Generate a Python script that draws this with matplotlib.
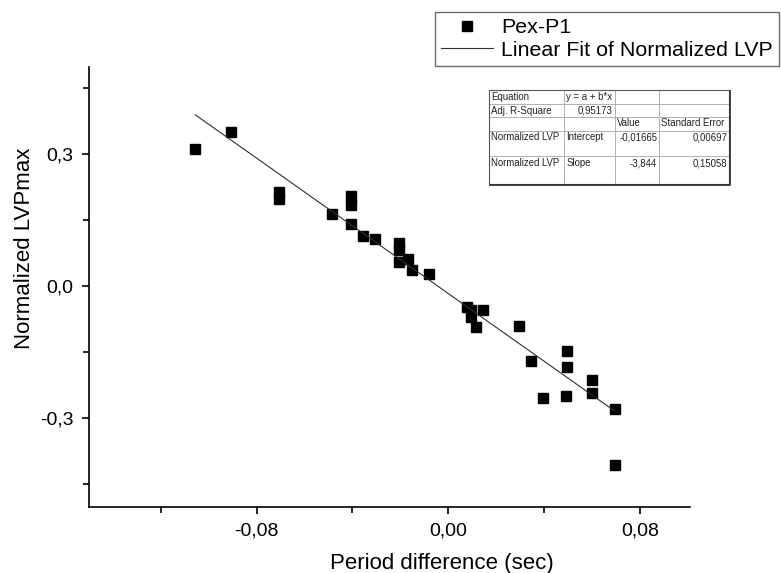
import matplotlib
matplotlib.use("Agg")
import matplotlib.pyplot as plt
import numpy as np

plt.rcParams['font.family'] = ['Liberation Sans', 'DejaVu Sans']

# ---- data ----
period_diff = [-0.1056, -0.0908, -0.0705, -0.0705, -0.0485, -0.0404, -0.0404, -0.0405,
               -0.0355, -0.0306, -0.0205, -0.0205, -0.0205, -0.0167, -0.0153, -0.0081,
               0.0079, 0.0096, 0.0095, 0.0118, 0.0146, 0.0295, 0.0345, 0.0397,
               0.0497, 0.0497, 0.0494, 0.0599, 0.0599, 0.0696, 0.0696]
norm_lvp = [0.312, 0.350, 0.214, 0.198, 0.163, 0.205, 0.184, 0.142,
            0.114, 0.108, 0.098, 0.082, 0.055, 0.061, 0.036, 0.027,
            -0.047, -0.055, -0.071, -0.092, -0.055, -0.091, -0.170, -0.255,
            -0.148, -0.184, -0.249, -0.213, -0.244, -0.279, -0.407]

fit_intercept = -0.01665
fit_slope = -3.844

x_major = [-0.08, 0.0, 0.08]
x_major_labels = ["-0,08", "0,00", "0,08"]
x_minor = [-0.12, -0.04, 0.04]
y_major = [-0.3, 0.0, 0.3]
y_major_labels = ["-0,3", "0,0", "0,3"]
y_minor = [-0.45, -0.15, 0.15, 0.45]

table_cells = [
    ["Equation", "y = a + b*x", "", ""],
    ["Adj. R-Square", "0,95173", "", ""],
    ["", "", "Value", "Standard Error"],
    ["Normalized LVP", "Intercept", "-0,01665", "0,00697"],
    ["Normalized LVP", "Slope", "-3,844", "0,15058"],
]
table_right_align = [
    [False, False, False, False],
    [False, True, False, False],
    [False, False, False, False],
    [False, False, True, True],
    [False, False, True, True],
]

W, H = 781, 573
fig = plt.figure(figsize=(W / 100, H / 100), dpi=100)

def fx(px):
    return px / W

def fy(py):
    return 1 - py / H

# main axes: left 89, right 690, top 67, bottom 507 (pixels)
ax = fig.add_axes([fx(89), fy(507), fx(690) - fx(89), fy(67) - fy(507)])
ax.set_xlim(-0.15, 0.101)
ax.set_ylim(-0.502, 0.498)

pts, = ax.plot(period_diff, norm_lvp, linestyle='none', marker='s', markersize=7.2,
               color='black', label='Pex-P1')
xf = np.array([min(period_diff), max(period_diff)])
fit, = ax.plot(xf, fit_intercept + fit_slope * xf, color='#303030', lw=0.8,
               label='Linear Fit of Normalized LVP')

for s in ['top', 'right']:
    ax.spines[s].set_visible(False)
for s in ['left', 'bottom']:
    ax.spines[s].set_linewidth(1.2)

ax.set_xticks(x_major)
ax.set_xticklabels(x_major_labels)
ax.set_xticks(x_minor, minor=True)
ax.set_yticks(y_major)
ax.set_yticklabels(y_major_labels)
ax.set_yticks(y_minor, minor=True)
ax.tick_params(which='major', direction='out', length=5, width=1.2, labelsize=14, pad=6)
ax.tick_params(which='minor', direction='out', length=4, width=1.2)

ax.set_xlabel("Period difference (sec)", fontsize=16)
ax.set_ylabel("Normalized LVPmax", fontsize=16)
ax.xaxis.set_label_coords(0.587, -0.104)
ax.yaxis.set_label_coords(-0.090, 0.589)

# legend (its frame runs past the right edge of the figure, as in the reference)
leg = fig.legend(handles=[pts, fit], loc='upper left',
                 bbox_to_anchor=(fx(435), fy(12)), bbox_transform=fig.transFigure,
                 fontsize=15.4, frameon=True, fancybox=False, edgecolor='#444444',
                 handlelength=2.4, handletextpad=0.4, borderpad=0.3,
                 labelspacing=0.15, borderaxespad=0, numpoints=1)
leg.get_frame().set_linewidth(1.0)

# fit-result table
col_x = [489.0, 564.3, 615.0, 659.3, 729.3]
row_y = [90.0, 103.5, 116.5, 130.5, 156.0, 184.0]
tax = fig.add_axes([fx(col_x[0]), fy(row_y[-1]), fx(col_x[-1]) - fx(col_x[0]),
                    fy(row_y[0]) - fy(row_y[-1])])
tax.set_xlim(col_x[0], col_x[-1])
tax.set_ylim(row_y[-1], row_y[0])
tax.axis('off')
for cx in col_x[1:-1]:
    tax.plot([cx, cx], [row_y[0], row_y[-1]], color='#b0b0b0', lw=0.7, clip_on=False)
for ry in row_y[1:-1]:
    tax.plot([col_x[0], col_x[-1]], [ry, ry], color='#b0b0b0', lw=0.7, clip_on=False)
tax.plot([col_x[0], col_x[-1], col_x[-1], col_x[0], col_x[0]],
         [row_y[0], row_y[0], row_y[-1], row_y[-1], row_y[0]], color='#555555', lw=0.8,
         clip_on=False)
tax.plot([col_x[0] + 1, col_x[-1] + 1, col_x[-1] + 1],
         [row_y[-1] + 1, row_y[-1] + 1, row_y[0] + 1], color='#333333', lw=1.3,
         clip_on=False)
for r, row in enumerate(table_cells):
    ytxt = row_y[r] + 7
    for c, txt in enumerate(row):
        if not txt:
            continue
        if table_right_align[r][c]:
            tax.text(col_x[c + 1] - 2, ytxt, txt, ha='right', va='center', fontsize=6.9,
                     color='#222222')
        else:
            tax.text(col_x[c] + 2, ytxt, txt, ha='left', va='center', fontsize=6.9,
                     color='#222222')

fig.savefig("out.png", dpi=100)
